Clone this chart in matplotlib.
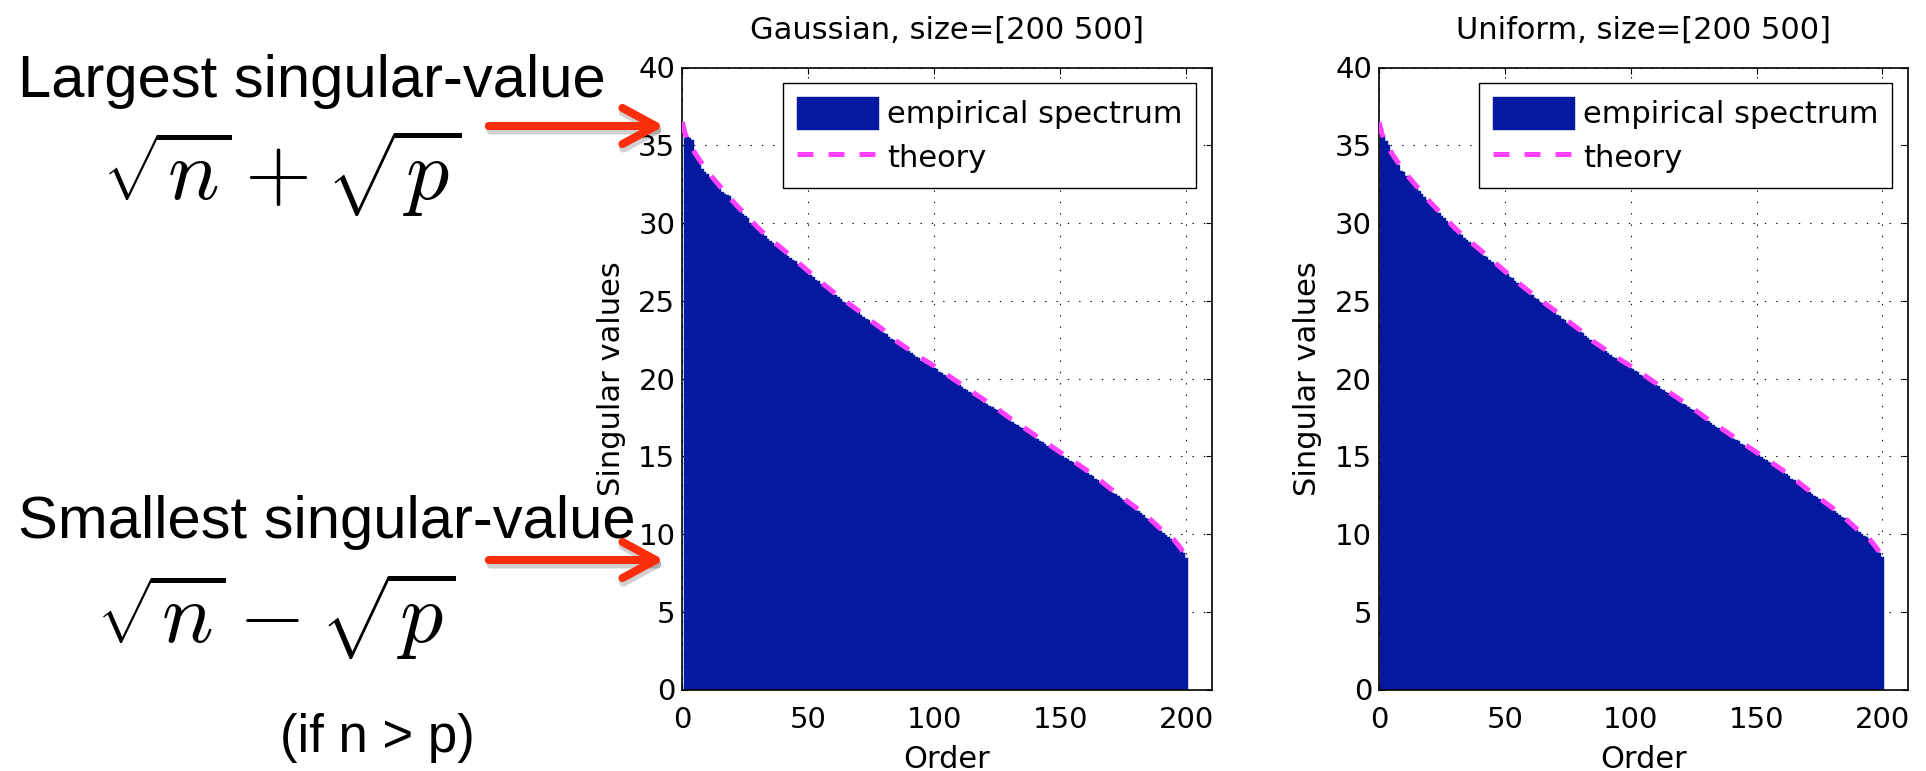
import matplotlib
matplotlib.use("Agg")
import matplotlib.pyplot as plt
from matplotlib.patches import FancyArrowPatch

plt.rcParams['font.family'] = ['DejaVu Sans']
plt.rcParams['mathtext.fontset'] = 'cm'

# ---------------- data ----------------
orders = list(range(1, 201))

gauss_sv = [
    36.2, 35.5, 35.45, 35.35, 34.6, 34.2, 33.9, 33.45, 33.3, 33.15,
    32.95, 32.75, 32.55, 32.4, 32.2, 32.0, 31.85, 31.8, 31.75, 31.3,
    31.1, 30.95, 30.8, 30.6, 30.45, 30.3, 30.0, 29.95, 29.8, 29.6,
    29.45, 29.3, 29.15, 29.0, 28.85, 28.7, 28.6, 28.45, 28.3, 28.15,
    28.05, 27.9, 27.75, 27.6, 27.55, 27.35, 27.2, 27.05, 26.9, 26.8,
    26.65, 26.5, 26.35, 26.25, 26.1, 25.95, 25.85, 25.7, 25.6, 25.4,
    25.35, 25.25, 25.1, 24.95, 24.85, 24.75, 24.6, 24.5, 24.35, 24.25,
    24.1, 23.95, 23.85, 23.75, 23.6, 23.45, 23.35, 23.25, 23.05, 22.95,
    22.85, 22.7, 22.55, 22.45, 22.3, 22.2, 22.05, 21.95, 21.85, 21.75,
    21.65, 21.5, 21.4, 21.3, 21.15, 21.05, 20.95, 20.85, 20.75, 20.65,
    20.6, 20.45, 20.35, 20.25, 20.15, 20.05, 19.9, 19.8, 19.7, 19.55,
    19.45, 19.35, 19.25, 19.15, 19.05, 18.9, 18.8, 18.65, 18.55, 18.45,
    18.35, 18.25, 18.15, 18.05, 17.95, 17.8, 17.65, 17.55, 17.45, 17.35,
    17.2, 17.1, 17.0, 16.9, 16.8, 16.65, 16.55, 16.45, 16.3, 16.2,
    16.1, 16.0, 15.9, 15.8, 15.65, 15.55, 15.45, 15.35, 15.25, 15.1,
    15.0, 14.9, 14.8, 14.7, 14.6, 14.5, 14.35, 14.25, 14.15, 14.05,
    13.9, 13.8, 13.7, 13.55, 13.45, 13.3, 13.2, 13.05, 12.9, 12.8,
    12.65, 12.55, 12.45, 12.3, 12.2, 12.05, 11.95, 11.8, 11.7, 11.55,
    11.45, 11.35, 11.2, 11.05, 10.95, 10.8, 10.65, 10.5, 10.35, 10.2,
    10.05, 9.95, 9.8, 9.7, 9.55, 9.4, 9.2, 9.0, 8.75, 8.45,
]

uniform_sv = [
    36.1, 35.6, 35.3, 35.0, 34.6, 34.3, 34.0, 33.7, 33.35, 33.3,
    33.05, 32.85, 32.65, 32.45, 32.25, 32.05, 31.85, 31.7, 31.5, 31.3,
    31.15, 31.0, 30.85, 30.65, 30.45, 30.3, 30.15, 30.0, 29.8, 29.6,
    29.45, 29.3, 29.2, 29.05, 28.9, 28.75, 28.65, 28.5, 28.3, 28.2,
    28.05, 27.9, 27.8, 27.65, 27.5, 27.35, 27.25, 27.1, 26.95, 26.8,
    26.7, 26.55, 26.45, 26.3, 26.15, 25.95, 25.85, 25.75, 25.6, 25.45,
    25.35, 25.2, 25.1, 24.95, 24.85, 24.75, 24.6, 24.5, 24.4, 24.25,
    24.1, 24.0, 23.85, 23.75, 23.6, 23.5, 23.4, 23.25, 23.1, 23.0,
    22.9, 22.75, 22.6, 22.5, 22.35, 22.25, 22.1, 22.0, 21.85, 21.75,
    21.65, 21.5, 21.4, 21.3, 21.2, 21.1, 20.95, 20.9, 20.8, 20.7,
    20.6, 20.5, 20.4, 20.25, 20.15, 20.05, 19.95, 19.8, 19.7, 19.6,
    19.5, 19.35, 19.25, 19.15, 19.05, 18.95, 18.85, 18.7, 18.6, 18.5,
    18.35, 18.3, 18.15, 18.05, 17.95, 17.85, 17.7, 17.6, 17.45, 17.35,
    17.25, 17.15, 17.0, 16.9, 16.8, 16.7, 16.6, 16.45, 16.35, 16.25,
    16.1, 16.05, 15.95, 15.8, 15.7, 15.6, 15.5, 15.35, 15.25, 15.15,
    15.05, 14.95, 14.85, 14.75, 14.65, 14.55, 14.45, 14.35, 14.2, 14.05,
    13.95, 13.85, 13.7, 13.55, 13.45, 13.35, 13.2, 13.1, 12.95, 12.8,
    12.7, 12.6, 12.45, 12.35, 12.25, 12.1, 11.95, 11.85, 11.7, 11.6,
    11.45, 11.35, 11.25, 11.1, 11.0, 10.85, 10.7, 10.55, 10.4, 10.25,
    10.1, 10.0, 9.9, 9.8, 9.65, 9.5, 9.25, 9.05, 8.8, 8.55,
]

theory_order = [0, 1, 2, 3, 5, 10, 15, 20, 25, 30, 35, 40, 45, 50, 55, 60, 65,
                70, 75, 80, 85, 90, 95, 100, 105, 110, 115, 120, 125, 130,
                135, 140, 145, 150, 155, 160, 165, 170, 175, 180, 185, 190,
                195, 197, 199, 200]
theory_sv = [36.5, 35.8, 35.4, 35.1, 34.5, 33.3, 32.35, 31.4, 30.55, 29.7,
             28.95, 28.3, 27.6, 26.9, 26.2, 25.55, 24.95, 24.35, 23.7, 23.1,
             22.4, 21.85, 21.3, 20.8, 20.25, 19.7, 19.15, 18.6, 18.05, 17.45,
             16.9, 16.35, 15.8, 15.25, 14.7, 14.15, 13.55, 12.9, 12.3, 11.7,
             11.05, 10.3, 9.65, 9.25, 8.8, 8.45]

titles = ["Gaussian, size=[200 500]", "Uniform, size=[200 500]"]
panels = [gauss_sv, uniform_sv]
xticks = [0, 50, 100, 150, 200]
yticks = [0, 5, 10, 15, 20, 25, 30, 35, 40]

BLUE = '#04199F'
MAGENTA = '#FF40FF'
RED = '#FA2D0C'

W, H = 1926, 771
fig = plt.figure(figsize=(W / 100, H / 100), dpi=100)

ax_bottom = (H - 689.5) / H
ax_height = 622 / H
lefts = [682.3 / W, 1379 / W]
widths = [529.2 / W, 528.5 / W]

for i in range(2):
    ax = fig.add_axes([lefts[i], ax_bottom, widths[i], ax_height])
    bars = ax.bar(orders, panels[i], width=1.0, color=BLUE, edgecolor=BLUE,
                  linewidth=0.3, label='empirical spectrum', zorder=2)
    line, = ax.plot(theory_order, theory_sv, color=MAGENTA, lw=3.6,
                    linestyle=(0, (3.2, 3.0)), label='theory', zorder=3)
    ax.set_xlim(0, 210)
    ax.set_ylim(0, 40)
    ax.set_xticks(xticks)
    ax.set_yticks(yticks)
    ax.set_axisbelow(True)
    ax.grid(True, color='k', lw=0.8, linestyle=(0, (1.2, 9)))
    ax.tick_params(direction='in', length=4.5, width=0.8, top=True,
                   right=True, labelsize=21)
    ax.tick_params(axis='x', pad=12)
    ax.tick_params(axis='y', pad=5)
    for sp in ax.spines.values():
        sp.set_linewidth(1.2)
    ax.set_title(titles[i], fontsize=22, pad=21)
    ax.set_xlabel('Order', fontsize=22, labelpad=8)
    ax.set_ylabel('Singular values', fontsize=22, labelpad=9)
    leg = ax.legend([bars, line], ['empirical spectrum', 'theory'],
                    loc='upper right', fontsize=22, frameon=True,
                    fancybox=False, framealpha=1, edgecolor='k',
                    handlelength=2.7, handleheight=1.3, handletextpad=0.25,
                    labelspacing=0.35, borderpad=0.45, borderaxespad=0.5)
    leg.get_frame().set_linewidth(1.0)

# ---------------- slide annotations ----------------
TXT = ['Liberation Sans', 'DejaVu Sans']
fig.text(18 / W, 1 - 97 / H, 'Largest singular-value', fontsize=43,
         family=TXT, ha='left', va='baseline')
fig.text(282 / W, 1 - 200 / H, r'$\sqrt{n}+\sqrt{p}$', fontsize=62,
         ha='center', va='baseline')
fig.text(18 / W, 1 - 538 / H, 'Smallest singular-value', fontsize=43,
         family=TXT, ha='left', va='baseline')
fig.text(276 / W, 1 - 643 / H, r'$\sqrt{n}-\sqrt{p}$', fontsize=62,
         ha='center', va='baseline')
fig.text(377 / W, 1 - 752 / H, '(if n > p)', fontsize=38,
         family=TXT, ha='center', va='baseline')

for yy in (126, 560):
    a = (486 / W, 1 - yy / H)
    b = (667 / W, 1 - yy / H)
    style = '->,head_length=24,head_width=13'
    sh = FancyArrowPatch((a[0] + 2 / W, a[1] - 4 / H), (b[0] + 2 / W, b[1] - 4 / H),
                         transform=fig.transFigure, arrowstyle=style,
                         mutation_scale=1, lw=6.5, color='#000000', alpha=0.18,
                         capstyle='round', joinstyle='round', zorder=4)
    fig.add_artist(sh)
    ar = FancyArrowPatch(a, b, transform=fig.transFigure, arrowstyle=style,
                         mutation_scale=1, lw=5.8, color=RED,
                         capstyle='round', joinstyle='round', zorder=5)
    fig.add_artist(ar)

fig.savefig('out.png', dpi=100)
